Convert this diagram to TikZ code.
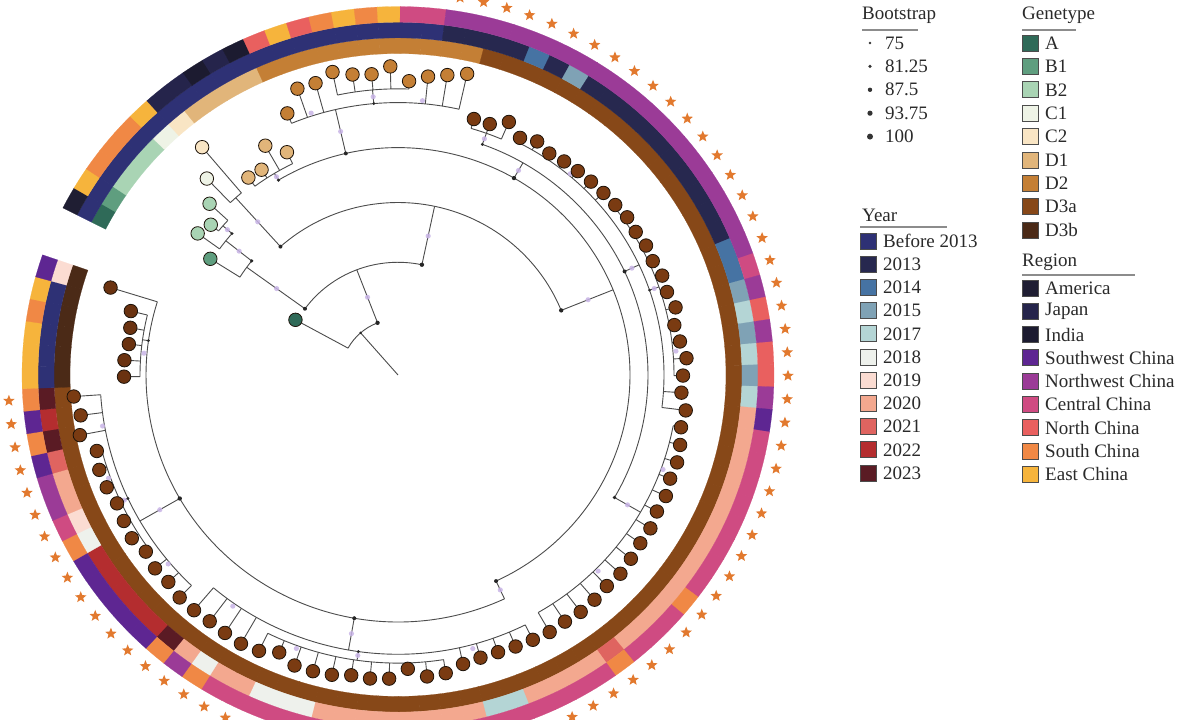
\documentclass[tikz,border=0pt]{standalone}
\usepackage{fontspec}
\setmainfont{Liberation Serif}
\usetikzlibrary{shapes.geometric}
% genotype
\definecolor{gA}{HTML}{2F6A58}
\definecolor{gBa}{HTML}{5F9E7F}
\definecolor{gBb}{HTML}{A9D4B4}
\definecolor{gCa}{HTML}{EEF3E6}
\definecolor{gCb}{HTML}{F9E5C4}
\definecolor{gDa}{HTML}{E1B57A}
\definecolor{gDb}{HTML}{C47F35}
\definecolor{gDc}{HTML}{874818}
\definecolor{gDd}{HTML}{4B2A17}
\definecolor{tD}{HTML}{7A3B12}
\definecolor{tDb}{HTML}{6A3210}
% year
\definecolor{yB}{HTML}{2E3175}
\definecolor{yT}{HTML}{27284F}
\definecolor{yFour}{HTML}{4673A3}
\definecolor{yFive}{HTML}{7FA2B5}
\definecolor{ySeven}{HTML}{B4D5D5}
\definecolor{yEight}{HTML}{EEF1EC}
\definecolor{yNine}{HTML}{FBDCD2}
\definecolor{yTwenty}{HTML}{F3A88F}
\definecolor{yTwOne}{HTML}{DF6460}
\definecolor{yTwTwo}{HTML}{B42D2F}
\definecolor{yTwThree}{HTML}{5A1B24}
% region
\definecolor{rAm}{HTML}{1F1E33}
\definecolor{rJp}{HTML}{25244B}
\definecolor{rIn}{HTML}{1C1B30}
\definecolor{rSW}{HTML}{5E2692}
\definecolor{rNW}{HTML}{9B3B97}
\definecolor{rCe}{HTML}{CF4B82}
\definecolor{rNo}{HTML}{E9605F}
\definecolor{rSo}{HTML}{F08845}
\definecolor{rEa}{HTML}{F6B43C}
\definecolor{starc}{HTML}{E2792E}
\definecolor{lav}{HTML}{C8B4E6}
\definecolor{txt}{HTML}{2A2A2A}

\def\tiplist{0/117/57/gA/gA/yB/rAm,
1/222/187/gBa/gBa/yB/rEa,
2/247/220/gBb/gBb/yB/rSo,
3/242/232/gBb/gBb/yB/rSo,
4/257/232/gBb/gBb/yB/rSo,
5/277/243/gCa/gCa/yB/rEa,
6/304/243/gCb/gCb/yB/rJp,
7/251/240/gDa/gDa/yB/rJp,
8/250/240/gDa/gDa/yB/rIn,
9/269/240/gDa/gDa/yB/rJp,
10/253/240/gDa/gDa/yB/rIn,
11/289/278/gDb/gDb/yB/rNo,
12/309/278/gDb/gDb/yB/rEa,
13/309/278/gDb/gDb/yB/rNo,
14/316/292/gDb/gDb/yB/rSo,
15/310/292/gDb/gDb/yB/rEa,
16/308/292/gDb/gDb/yB/rSo,
17/315/292/gDb/gDb/yB/rEa,
18/300/292/gDb/gDb/yB/rCe,
19/306/278/gDb/gDb/yB/rCe,
20/310/278/gDb/gDb/yT/rNW,
21/315/278/gDb/gDb/yT/rNW,
22/272/262/gDc/tD/yT/rNW,
23/272/262/gDc/tD/yT/rNW,
24/281/262/gDc/tD/yFour/rNW,
25/271/266/gDc/tD/yT/rNW,
26/276/266/gDc/tD/yFive/rNW,
27/272/266/gDc/tD/yT/rNW,
28/274/266/gDc/tD/yT/rNW,
29/275/266/gDc/tD/yT/rNW,
30/276/266/gDc/tD/yT/rNW,
31/277/266/gDc/tD/yT/rNW,
32/278/276/gDc/tD/yT/rNW,
33/280/276/gDc/tD/yT/rNW,
34/279/276/gDc/tD/yT/rNW,
35/281/276/gDc/tD/yT/rNW,
36/280/276/gDc/tD/yT/rNW,
37/283/276/gDc/tD/yFour/rNW,
38/282/276/gDc/tD/yFour/rCe,
39/286/276/gDc/tD/yFive/rNW,
40/281/276/gDc/tD/ySeven/rNo,
41/284/276/gDc/tD/yFive/rNW,
42/289/276/gDc/tD/ySeven/rNo,
43/285/276/gDc/tD/yFive/rNo,
44/284/266/gDc/tD/ySeven/rNW,
45/290/266/gDc/tD/yTwenty/rSW,
46/288/280/gDc/tD/yTwenty/rCe,
47/291/280/gDc/tD/yTwenty/rCe,
48/293/280/gDc/tD/yTwenty/rCe,
49/292/280/gDc/tD/yTwenty/rCe,
50/295/280/gDc/tD/yTwenty/rCe,
51/294/280/gDc/tD/yTwenty/rCe,
52/297/280/gDc/tD/yTwenty/rCe,
53/297/280/gDc/tD/yTwenty/rCe,
54/299/280/gDc/tD/yTwenty/rSo,
55/301/280/gDc/tD/yTwenty/rCe,
56/300/280/gDc/tD/yTwenty/rCe,
57/302/280/gDc/tD/yTwenty/rCe,
58/303/280/gDc/tD/yTwOne/rSo,
59/302/280/gDc/tD/yTwenty/rCe,
60/303/280/gDc/tD/yTwenty/rCe,
61/302/285/gDc/tD/yTwenty/rCe,
62/301/285/gDc/tD/yTwenty/rCe,
63/300/285/gDc/tD/ySeven/rCe,
64/300/285/gDc/tD/ySeven/rCe,
65/302/285/gDc/tD/yTwenty/rCe,
66/308/294/gDc/tD/yTwenty/rCe,
67/309/294/gDc/tD/yTwenty/rCe,
68/300/294/gDc/tD/yTwenty/rCe,
69/310/294/gDc/tD/yTwenty/rCe,
70/311/294/gDc/tD/yTwenty/rCe,
71/310/294/gDc/tD/yTwenty/rCe,
72/313/294/gDc/tD/yTwenty/rCe,
73/314/294/gDc/tD/yEight/rCe,
74/314/294/gDc/tD/yEight/rCe,
75/307/294/gDc/tD/yEight/rCe,
76/314/294/gDc/tD/yTwenty/rCe,
77/316/285/gDc/tD/yTwenty/rCe,
78/315/285/gDc/tD/yEight/rSo,
79/314/285/gDc/tD/yTwenty/rNW,
80/315/285/gDc/tD/yTwThree/rSo,
81/315/298/gDc/tD/yTwTwo/rSW,
82/312/298/gDc/tD/yTwTwo/rSW,
83/313/298/gDc/tD/yTwTwo/rSW,
84/310/306/gDc/tD/yTwTwo/rSW,
85/314/306/gDc/tD/yTwTwo/rSW,
86/312/306/gDc/tD/yEight/rSo,
87/310/306/gDc/tD/yNine/rCe,
88/313/306/gDc/tD/yTwenty/rNW,
89/314/306/gDc/tD/yTwenty/rNW,
90/311/306/gDc/tD/yTwOne/rSW,
91/324/298/gDc/tD/yTwThree/rSo,
92/320/298/gDc/tD/yTwTwo/rSW,
93/325/298/gDc/tD/yTwThree/rSo,
94/274/258/gDd/tDb/yB/rEa,
95/274/258/gDd/tDb/yB/rEa,
96/271/258/gDd/tDb/yB/rEa,
97/272/258/gDd/tDb/yB/rSo,
98/275/258/gDd/tDb/yB/rEa,
99/301/252/gDd/tDb/yNine/rSW}

\newcommand{\parcx}[3]{\draw[br] (#2:#1) arc[start angle=#2, end angle=#3, radius=#1];}
\newcommand{\pradx}[3]{\draw[br] (#1:#2) -- (#1:#3);}
\newcommand{\sector}[4]{\fill[fill=#4, draw=#4, line width=0.2pt] (#1:#2) arc[start angle=#1, end angle=\angB, radius=#2] -- (\angB:#3) arc[start angle=\angB, end angle=#1, radius=#3] -- cycle;}

\begin{document}
\begin{tikzpicture}[x=1pt,y=1pt,
  br/.style={draw=black!70, line width=0.9pt},
  tipc/.style={circle, minimum size=13.5pt, inner sep=0pt, draw=black!85!brown, line width=0.8pt},
  starn/.style={star, star points=5, star point ratio=2.3, fill=starc, draw=none, minimum size=12pt, inner sep=0pt},
  leg/.style={anchor=west, font=\fontsize{19}{22}\selectfont, text=txt, inner sep=0pt},
  sq/.style={draw=black!70, line width=0.9pt, minimum size=16pt, inner sep=0pt},
  uline/.style={draw=black!45, line width=1.6pt}
  ]
\useasboundingbox (0,0) rectangle (1200,720);
\fill[white] (0,0) rectangle (1200,720);

\begin{scope}[shift={(398,345)}, yscale=0.98]
  % rings
  \foreach \i/\rt/\pr/\g/\tc/\yc/\qc in \tiplist {
    \pgfmathsetmacro\tha{151.24-3.52*\i}
    \pgfmathsetmacro\angA{\tha+1.79}
    \pgfmathsetmacro\angB{\tha-1.79}
    \sector{\angA}{328}{344}{\g}
    \sector{\angA}{344}{360}{\yc}
    \sector{\angA}{360}{376}{\qc}
  }
  % tree backbone
  \pradx{131}{0}{57}
  \parcx{57}{151.24}{111}
  \pradx{111}{57}{115}
  \parcx{115}{144}{78}
  \pradx{144}{115}{187}
  \parcx{187}{147.72}{141.5}
  \pradx{141.5}{187}{220}
  \parcx{220}{144.2}{139}
  \pradx{139}{220}{232}
  \parcx{232}{140.68}{137.16}
  \pradx{78}{115}{176}
  \parcx{176}{131.9}{22}
  \pradx{131.9}{176}{243}
  \parcx{243}{133.64}{130.12}
  \pradx{22}{176}{232}
  \parcx{232}{121}{-65}
  \pradx{121}{232}{240}
  \parcx{240}{126.6}{116.04}
  \pradx{103}{232}{278}
  \parcx{278}{112.52}{77.32}
  \pradx{95}{278}{292}
  \parcx{292}{101.96}{87.88}
  \pradx{60}{232}{250}
  \parcx{250}{70.28}{-30}
  \pradx{70.28}{250}{262}
  \parcx{262}{73.8}{66.76}
  \pradx{25}{250}{266}
  \parcx{266}{63.24}{-7.16}
  \pradx{19}{266}{276}
  \parcx{276}{38.6}{-0.12}
  \pradx{-30}{250}{280}
  \parcx{280}{-10.68}{-59.96}
  \pradx{-65}{232}{252}
  \parcx{252}{-65}{-197.24}
  \pradx{-100}{252}{285}
  \parcx{285}{-63.48}{-130.36}
  \pradx{-98}{285}{294}
  \parcx{294}{-81.08}{-116.28}
  \pradx{-150}{252}{298}
  \parcx{298}{-133.88}{-176.12}
  \pradx{-155}{298}{306}
  \parcx{306}{-144.44}{-165.56}
  \pradx{-188}{252}{258}
  \parcx{258}{-179.64}{-193.72}
  % tip branches
  \foreach \i/\rt/\pr/\g/\tc/\yc/\qc in \tiplist {
    \pgfmathsetmacro\tha{151.24-3.52*\i}
    \draw[br] (\tha:\pr) -- (\tha:\rt);
  }
  % bootstrap dots at nodes
  \foreach \p/\s in {111:57/2.2, 144:115/2, 78:115/2.2, 141.5:187/1.8, 139:220/1.6, 131.9:176/2,
      22:176/2.2, 103:232/2, 121:232/1.8, 60:232/2.2, -65:232/2, 70.28:250/1.6, 25:250/2,
      -30:250/1.8, -100:252/2, -150:252/2.2, 95:278/1.6, 19:266/1.6, -98:285/1.6,
      -155:298/1.6, -188:252/1.6, 131:57/1.4}
    \fill[black!85] (\p) circle (\s);
  % light purple bootstrap marks
  \foreach \p in {131.9:210, 141.5:203, 144:150, 78:145, 22:205, 103:255, 121:236, 60:241,
      -65:242, -100:268, -150:275, 70.28:256, 25:258, -30:265, 19:271, -98:289, -155:302,
      95:285, 139:226, 111:85, 50:268, 5:279, -20:282, -45:283, -75:289, -125:288,
      -140:300, -170:300, -185:255, 85:281, 108:281, -110:297, -160:308}
    \fill[lav, opacity=0.85] (\p) circle (2.6);
  % tips and stars
  \foreach \i/\rt/\pr/\g/\tc/\yc/\qc in \tiplist {
    \pgfmathsetmacro\tha{151.24-3.52*\i}
    \node[tipc, fill=\tc] (t\i) at (\tha:\rt) {};
    \ifnum\i>19 \ifnum\i<94
      \node[starn] (s\i) at (\tha:390) {};
    \fi\fi
  }
\end{scope}

% ---------- legend ----------
% Bootstrap
\node[leg] (hb) at (862,705) {Bootstrap};
\draw[uline] (862,690) -- (918,690);
\foreach \k/\v/\s in {0/75/1.4, 1/81.25/1.8, 2/87.5/2.2, 3/93.75/2.6, 4/100/3.0} {
  \fill[black!80] (870,677-23.4*\k) circle (\s);
  \node[leg] (b\k) at (885,677-23.4*\k) {\v};
}
% Genetype
\node[leg] (hg) at (1022,705) {Genetype};
\draw[uline] (1022,690) -- (1076,690);
\foreach \k/\c/\v in {0/gA/A, 1/gBa/B1, 2/gBb/B2, 3/gCa/C1, 4/gCb/C2, 5/gDa/D1, 6/gDb/D2, 7/gDc/D3a, 8/gDd/D3b} {
  \node[sq, fill=\c] (gs\k) at (1030.5,677-23.4*\k) {};
  \node[leg] (gt\k) at (1045,677-23.4*\k) {\v};
}
% Year
\node[leg] (hy) at (862,505) {Year};
\draw[uline] (860,493) -- (947,493);
\foreach \k/\c/\v in {0/yB/Before 2013, 1/yT/2013, 2/yFour/2014, 3/yFive/2015, 4/ySeven/2017, 5/yEight/2018, 6/yNine/2019, 7/yTwenty/2020, 8/yTwOne/2021, 9/yTwTwo/2022, 10/yTwThree/2023} {
  \node[sq, fill=\c] (ys\k) at (868.5,479-23.2*\k) {};
  \node[leg] (yt\k) at (883,479-23.2*\k) {\v};
}
% Region
\node[leg] (hr) at (1022,458) {Region};
\draw[uline] (1022,445) -- (1135,445);
\foreach \k/\c/\v in {0/rAm/America, 1/rJp/Japan, 2/rIn/India, 3/rSW/Southwest China, 4/rNW/Northwest China, 5/rCe/Central China, 6/rNo/North China, 7/rSo/South China, 8/rEa/East China} {
  \node[sq, fill=\c] (rs\k) at (1030.5,432-23.3*\k) {};
  \node[leg] (rt\k) at (1045,432-23.3*\k) {\v};
}
\end{tikzpicture}
\end{document}
